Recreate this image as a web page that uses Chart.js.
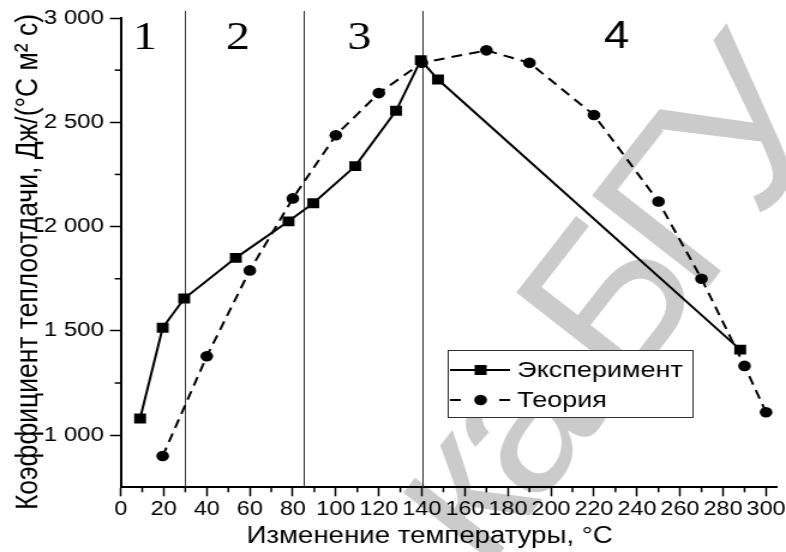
<!DOCTYPE html>
<html lang="ru">
<head>
  <meta charset="UTF-8" />
  <title>Коэффициент теплоотдачи</title>
  <script src="https://cdn.jsdelivr.net/npm/chart.js"></script>
  <style>
    html, body { margin: 0; padding: 0; background: #fff; overflow: hidden; }
    /* the reference is stretched sideways, so draw narrow and widen */
    .wrap { width: 655px; height: 552px; transform: scaleX(1.2); transform-origin: 0 0; }
  </style>
</head>
<body>
  <div class="wrap"><canvas id="chart" width="655" height="552"></canvas></div>

  <script>
    const expX = [9, 19.5, 29.5, 53.5, 78, 89.5, 109, 128, 139.5, 147.5, 288];
    const expY = [1080, 1515, 1655, 1850, 2025, 2112, 2290, 2555, 2798, 2705, 1410];
    const theoX = [19.5, 40, 60, 80, 100, 120, 140, 170, 190, 220, 250, 270, 290, 300];
    const theoY = [900, 1378, 1790, 2135, 2438, 2640, 2785, 2845, 2785, 2535, 2120, 1750, 1332, 1110];

    const xTicks = [0, 20, 40, 60, 80, 100, 120, 140, 160, 180, 200, 220, 240, 260, 280, 300];
    const xMinor = [10, 30, 50, 70, 90, 110, 130, 150, 170, 190, 210, 230, 250, 270, 290];
    const yTicks = [1000, 1500, 2000, 2500, 3000];
    const yMinor = [1250, 1750, 2250, 2750];

    const zoneBorders = [30, 85, 140];
    const zoneNames = ['1', '2', '3', '4'];
    const zoneNameX = [11.3, 54.5, 111, 230.5];

    const FONT = '"Liberation Sans", Arial, sans-serif';

    const decor = {
      id: 'decor',
      beforeDraw(chart) {
        const c = chart.ctx;
        c.save();
        c.fillStyle = '#fff';
        c.fillRect(0, 0, chart.width, chart.height);
        // watermark, undo the sideways stretch for it
        c.scale(1 / 1.2, 1);
        c.translate(484, 574);
        c.rotate(-52 * Math.PI / 180);
        c.fillStyle = '#cbcbcb';
        c.font = '215px ' + FONT;
        c.letterSpacing = '-18px';
        c.fillText('ка БГУ', 0, 0);
        c.restore();
      },
      beforeDatasetsDraw(chart) {
        const c = chart.ctx;
        const xs = chart.scales.x;
        const area = chart.chartArea;
        c.save();
        c.strokeStyle = '#333';
        c.lineWidth = 1;
        zoneBorders.forEach(v => {
          const px = Math.round(xs.getPixelForValue(v)) + 0.5;
          c.beginPath();
          c.moveTo(px, 11);
          c.lineTo(px, area.bottom);
          c.stroke();
        });
        c.fillStyle = '#000';
        c.textAlign = 'center';
        c.textBaseline = 'middle';
        zoneNames.forEach((t, i) => {
          c.font = (i < 3 ? '40px "Liberation Serif", "Times New Roman", serif' : '38px ' + FONT);
          c.fillText(t, xs.getPixelForValue(zoneNameX[i]), 38);
        });
        c.restore();
      },
      afterDraw(chart) {
        const c = chart.ctx;
        const xs = chart.scales.x, ys = chart.scales.y;
        const area = chart.chartArea;
        c.save();
        // minor ticks
        c.strokeStyle = '#000';
        c.lineWidth = 1.5;
        xMinor.forEach(v => {
          const px = xs.getPixelForValue(v);
          c.beginPath(); c.moveTo(px, area.bottom); c.lineTo(px, area.bottom + 5); c.stroke();
        });
        yMinor.forEach(v => {
          const py = ys.getPixelForValue(v);
          c.beginPath(); c.moveTo(area.left - 5, py); c.lineTo(area.left, py); c.stroke();
        });

        // axis titles
        c.fillStyle = '#000';
        c.textAlign = 'center';
        c.textBaseline = 'middle';
        c.font = '23px ' + FONT;
        c.fillText('Изменение температуры, °C', 358, 537);
        c.save();
        c.translate(24, 262);
        c.rotate(-Math.PI / 2);
        c.font = '26.5px ' + FONT;
        c.fillText('Коэффициент теплоотдачи, Дж/(°C м² с)', 0, 0);
        c.restore();

        // legend
        const lx = 373.5, ly = 350.5, lw = 204, lh = 67;
        c.fillStyle = '#fff';
        c.fillRect(lx, ly, lw, lh);
        c.strokeStyle = '#333';
        c.lineWidth = 1;
        c.strokeRect(lx, ly, lw, lh);
        c.strokeStyle = '#000';
        c.fillStyle = '#000';
        c.lineWidth = 2;
        c.beginPath(); c.moveTo(375, 370); c.lineTo(425, 370); c.stroke();
        c.fillRect(395.5, 365, 10, 10);
        c.beginPath(); c.moveTo(375, 400); c.lineTo(384, 400); c.moveTo(416, 400); c.lineTo(425, 400); c.stroke();
        c.beginPath(); c.arc(400.5, 400, 5.3, 0, Math.PI * 2); c.fill();
        c.textAlign = 'left';
        c.font = '22.5px ' + FONT;
        c.fillText('Эксперимент', 431, 371);
        c.fillText('Теория', 431, 401);
        c.restore();
      }
    };

    const ctx = document.getElementById('chart').getContext('2d');
    new Chart(ctx, {
      type: 'scatter',
      data: {
        datasets: [{
          label: 'Эксперимент',
          data: expX.map((x, i) => ({ x: x, y: expY[i] })),
          showLine: true,
          borderColor: '#000',
          backgroundColor: '#000',
          borderWidth: 2,
          pointStyle: 'rect',
          pointRadius: 7,
          pointBorderWidth: 0
        }, {
          label: 'Теория',
          data: theoX.map((x, i) => ({ x: x, y: theoY[i] })),
          showLine: true,
          borderColor: '#000',
          backgroundColor: '#000',
          borderWidth: 2,
          borderDash: [9, 6],
          pointStyle: 'circle',
          pointRadius: 5.3,
          pointBorderWidth: 0
        }]
      },
      options: {
        responsive: false,
        animation: false,
        layout: { padding: { top: 18, right: 7.7, left: 0, bottom: 0 } },
        plugins: {
          legend: { display: false },
          tooltip: { enabled: false }
        },
        scales: {
          x: {
            type: 'linear',
            min: 0,
            max: 305,
            afterBuildTicks: a => { a.ticks = xTicks.map(v => ({ value: v })); },
            afterFit: s => { s.height = 552 - 487.3; s.paddingLeft = 0; s.paddingRight = 0; },
            grid: { drawOnChartArea: false, tickLength: 9, tickColor: '#000', tickWidth: 1.5 },
            border: { color: '#000', width: 2 },
            ticks: { color: '#000', font: { family: FONT, size: 19.5 }, padding: 2, maxRotation: 0, autoSkip: false }
          },
          y: {
            min: 750,
            max: 3000,
            afterBuildTicks: a => { a.ticks = yTicks.map(v => ({ value: v })); },
            afterFit: s => { s.width = 100.6; s.paddingTop = 0; s.paddingBottom = 0; },
            grid: { drawOnChartArea: false, tickLength: 9, tickColor: '#000', tickWidth: 1.5 },
            border: { color: '#000', width: 2 },
            ticks: {
              color: '#000',
              font: { family: FONT, size: 20 },
              padding: 5,
              callback: v => String(v).replace(/\B(?=(\d{3})+(?!\d))/g, ' ')
            }
          }
        }
      },
      plugins: [decor]
    });
  </script>
</body>
</html>
